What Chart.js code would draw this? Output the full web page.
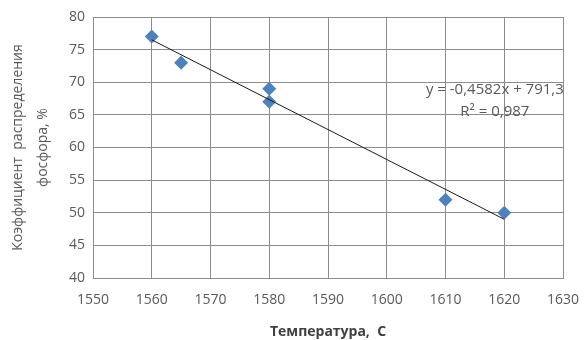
<!DOCTYPE html>
<html>
<head>
<meta charset="utf-8">
<script src="https://cdn.jsdelivr.net/npm/chart.js@4"></script>
<style>
  html, body { margin: 0; padding: 0; background: #fff; }
  #wrap { width: 584px; height: 340px; }
</style>
</head>
<body>
<div id="wrap"><canvas id="scatterChart" width="584" height="340"></canvas></div>
<script>
// measured points
const temperature = [1560, 1565, 1580, 1580, 1610, 1620];
const phosphorus = [77, 73, 69, 67, 52, 50];

// linear trend line endpoints
const trendX = [1560, 1620];
const trendY = [76.5, 49.0];

// axis ticks
const xTicks = [1550, 1560, 1570, 1580, 1590, 1600, 1610, 1620, 1630];
const yTicks = [40, 45, 50, 55, 60, 65, 70, 75, 80];

const equationText = ['y = -0,4582x + 791,3', 'R² = 0,987'];
const equationAt = { x: 1618.4, y: 68.8 };

const fontFamily = "'Open Sans', 'Liberation Sans', sans-serif";
const gridColor = '#8c8c8c';
const textColor = '#595959';

// Draws the trend line equation anchored to data coordinates
const equationLabel = {
    id: 'equationLabel',
    afterDatasetsDraw(chart) {
        let c = chart.ctx;
        let px = chart.scales.x.getPixelForValue(equationAt.x);
        let py = chart.scales.y.getPixelForValue(equationAt.y);
        c.save();
        c.fillStyle = textColor;
        c.font = '15px ' + fontFamily;
        c.textAlign = 'center';
        c.textBaseline = 'middle';
        c.fillText(equationText[0], px, py);
        c.fillText(equationText[1], px, py + 22);
        c.restore();
    }
};

let ctx = document.getElementById('scatterChart');

new Chart(ctx, {
    type: 'scatter',
    data: {
        datasets: [
            {
                label: 'points',
                data: temperature.map((t, i) => ({ x: t, y: phosphorus[i] })),
                pointStyle: 'rectRot',
                pointRadius: 7,
                pointHoverRadius: 7,
                backgroundColor: '#4f81bd',
                borderColor: '#4f81bd',
                borderWidth: 0,
                order: 2
            },
            {
                label: 'trend',
                data: trendX.map((t, i) => ({ x: t, y: trendY[i] })),
                showLine: true,
                pointRadius: 0,
                borderColor: '#1a1a1a',
                borderWidth: 1,
                order: 1
            }
        ]
    },
    options: {
        responsive: false,
        animation: false,
        layout: { padding: { top: 17, right: 21, left: 6, bottom: 0 } },
        plugins: {
            legend: { display: false },
            tooltip: { enabled: false }
        },
        scales: {
            x: {
                type: 'linear',
                min: xTicks[0],
                max: xTicks[xTicks.length - 1],
                afterBuildTicks: (scale) => { scale.ticks = xTicks.map(v => ({ value: v })); },
                afterFit: (scale) => {
                    scale.height = 62;
                    scale.paddingLeft = 0;
                    scale.paddingRight = 0;
                },
                grid: { color: gridColor, drawTicks: false },
                border: { color: gridColor },
                ticks: {
                    padding: 14,
                    color: textColor,
                    font: { family: fontFamily, size: 14 },
                    callback: (v) => String(v)
                },
                title: {
                    display: true,
                    text: 'Температура,  С',
                    color: '#404040',
                    font: { family: fontFamily, size: 14, weight: 'bold' },
                    padding: { top: 2, bottom: 0 }
                }
            },
            y: {
                min: yTicks[0],
                max: yTicks[yTicks.length - 1],
                afterBuildTicks: (scale) => { scale.ticks = yTicks.map(v => ({ value: v })); },
                afterFit: (scale) => {
                    scale.width = 87;
                    scale.paddingTop = 0;
                    scale.paddingBottom = 0;
                },
                grid: { color: gridColor, drawTicks: false },
                border: { color: gridColor },
                ticks: {
                    padding: 8,
                    color: textColor,
                    font: { family: fontFamily, size: 14 },
                    callback: (v) => String(v)
                },
                title: {
                    display: true,
                    text: ['Коэффициент  распределения', 'фосфора, %'],
                    color: textColor,
                    font: { family: fontFamily, size: 14, lineHeight: 1.75 },
                    padding: { top: 0, bottom: 0 }
                }
            }
        }
    },
    plugins: [equationLabel]
});
</script>
</body>
</html>
